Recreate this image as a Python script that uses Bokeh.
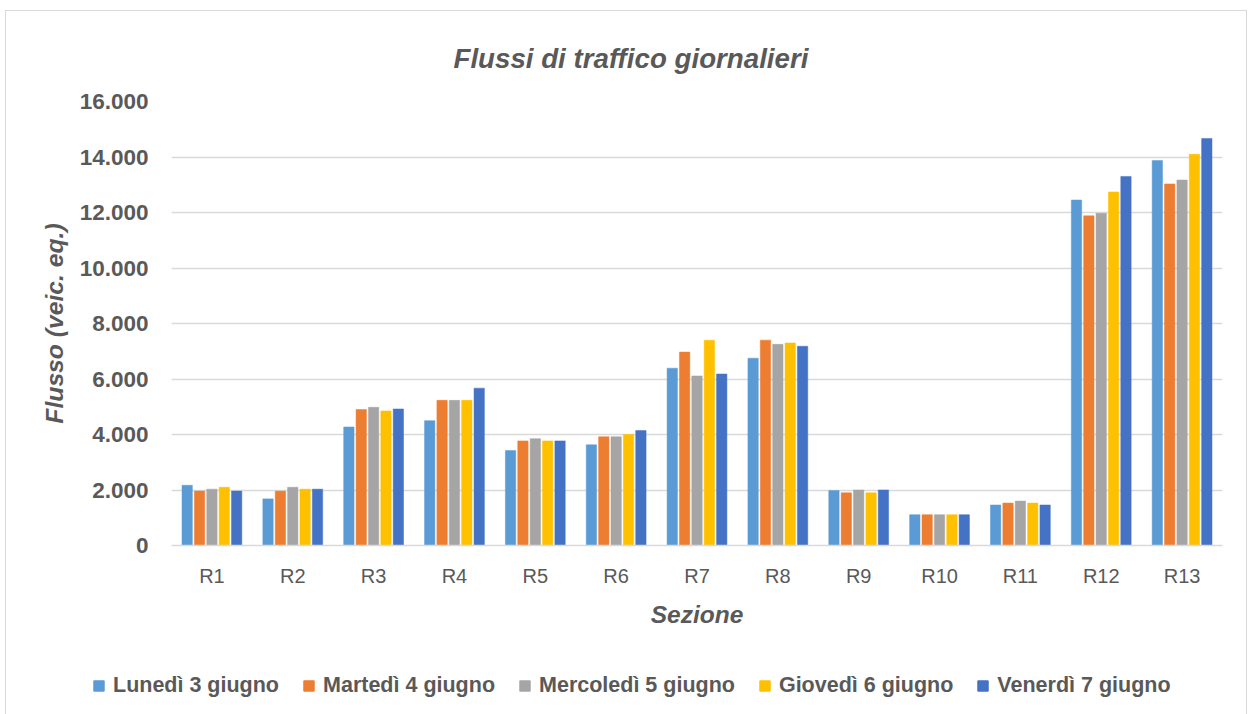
from bokeh.plotting import figure
from bokeh.layouts import column
from bokeh.models import (FactorRange, Range1d, FixedTicker, Legend, LegendItem,
                          ColumnDataSource)
from bokeh.transform import dodge
from bokeh.embed import file_html
from bokeh.resources import INLINE

# ---- data ----
sezioni = ["R1", "R2", "R3", "R4", "R5", "R6", "R7", "R8", "R9", "R10", "R11", "R12", "R13"]
serie = ["Lunedì 3 giugno", "Martedì 4 giugno", "Mercoledì 5 giugno",
         "Giovedì 6 giugno", "Venerdì 7 giugno"]
lunedi = [2170, 1680, 4270, 4500, 3420, 3630, 6390, 6750, 1980, 1110, 1460, 12450, 13870]
martedi = [1960, 1960, 4900, 5230, 3770, 3920, 6970, 7400, 1900, 1110, 1530, 11880, 13030]
mercoledi = [2030, 2100, 4980, 5230, 3850, 3920, 6110, 7250, 2000, 1110, 1600, 11970, 13170]
giovedi = [2100, 2030, 4850, 5230, 3770, 4000, 7400, 7300, 1900, 1110, 1530, 12740, 14100]
venerdi = [1960, 2030, 4920, 5670, 3770, 4140, 6180, 7180, 2000, 1110, 1460, 13300, 14670]
y_ticks = [0, 2000, 4000, 6000, 8000, 10000, 12000, 14000, 16000]
y_tick_labels = ["0", "2.000", "4.000", "6.000", "8.000", "10.000", "12.000", "14.000", "16.000"]

colori = ["#5B9BD5", "#ED7D31", "#A5A5A5", "#FFC000", "#4472C4"]
TXT = "#595959"
FONT = "Liberation Sans"

cols = ["lun", "mar", "mer", "gio", "ven"]
source = ColumnDataSource(dict(sezione=sezioni, lun=lunedi, mar=martedi,
                               mer=mercoledi, gio=giovedi, ven=venerdi))

p = figure(x_range=FactorRange(*sezioni), y_range=Range1d(0, 16000),
           width=1240, height=649, output_backend="svg", toolbar_location=None,
           min_border_left=165, min_border_right=24, min_border_top=90,
           min_border_bottom=115, title="Flussi di traffico giornalieri")

offsets = [-0.306, -0.153, 0.0, 0.153, 0.306]
for c, col, off in zip(cols, colori, offsets):
    p.vbar(x=dodge("sezione", off, range=p.x_range), top=c, width=0.128,
           source=source, fill_color=col, line_color=col, line_width=0.5)

p.title.align = "left"
p.title.offset = 282
p.title.text_font = FONT
p.title.text_font_size = "27.7px"
p.title.text_font_style = "bold italic"
p.title.text_color = TXT
p.title.standoff = 56

p.outline_line_color = None
p.xgrid.grid_line_color = None
p.ygrid.grid_line_color = "#d9d9d9"
p.ygrid.grid_line_width = 1.5

p.yaxis.ticker = FixedTicker(ticks=y_ticks)
p.yaxis.major_label_overrides = {t: l for t, l in zip(y_ticks, y_tick_labels)}
p.yaxis.axis_line_color = None
p.yaxis.major_tick_line_color = None
p.yaxis.minor_tick_line_color = None
p.yaxis.major_label_standoff = 17
p.yaxis.major_label_text_font = FONT
p.yaxis.major_label_text_font_size = "22.5px"
p.yaxis.major_label_text_font_style = "bold"
p.yaxis.major_label_text_color = TXT
p.yaxis.axis_label = "Flusso (veic. eq.)"
p.yaxis.axis_label_text_font = FONT
p.yaxis.axis_label_text_font_size = "24.7px"
p.yaxis.axis_label_text_font_style = "bold italic"
p.yaxis.axis_label_text_color = TXT
p.yaxis.axis_label_standoff = 9

p.xaxis.axis_line_color = "#d9d9d9"
p.xaxis.axis_line_width = 1.5
p.xaxis.major_tick_line_color = None
p.xaxis.minor_tick_line_color = None
p.xaxis.major_label_standoff = 13
p.xaxis.major_label_text_font = FONT
p.xaxis.major_label_text_font_size = "20px"
p.xaxis.major_label_text_color = TXT
p.xaxis.axis_label = "Sezione"
p.xaxis.axis_label_text_font = FONT
p.xaxis.axis_label_text_font_size = "24.5px"
p.xaxis.axis_label_text_font_style = "bold italic"
p.xaxis.axis_label_text_color = TXT
p.xaxis.axis_label_standoff = 11

# ---- legend strip ----
p2 = figure(width=1240, height=55, output_backend="svg", toolbar_location=None,
            x_range=Range1d(0, 1), y_range=Range1d(0, 1),
            x_axis_location=None, y_axis_location=None,
            min_border=0, min_border_left=0, min_border_right=0,
            min_border_top=0, min_border_bottom=0)
if "frame_align" in p2.properties():
    p2.frame_align = False
    p.frame_align = False
p2.outline_line_color = None
p2.xgrid.visible = False
p2.ygrid.visible = False
dummy = ColumnDataSource(dict(x=[-5.0], top=[0.0]))
leg_r = [p2.vbar(x="x", top="top", width=0.1, source=dummy, fill_color=col, line_color=col)
         for col in colori]
legend = Legend(items=[LegendItem(label=s, renderers=[r]) for s, r in zip(serie, leg_r)],
                orientation="horizontal", location=(86, 17),
                glyph_width=13, glyph_height=13, label_standoff=8, spacing=23,
                padding=0, margin=0, border_line_color=None, background_fill_alpha=0,
                label_text_font_size="21.5px", label_text_font_style="bold",
                label_text_color=TXT, label_text_font=FONT)
p2.add_layout(legend)

layout = column(p, p2, spacing=0)
layout.styles = {"border": "1px solid #d9d9d9", "margin-left": "5px", "margin-top": "10px"}

open("out.html", "w").write(file_html(layout, INLINE))
